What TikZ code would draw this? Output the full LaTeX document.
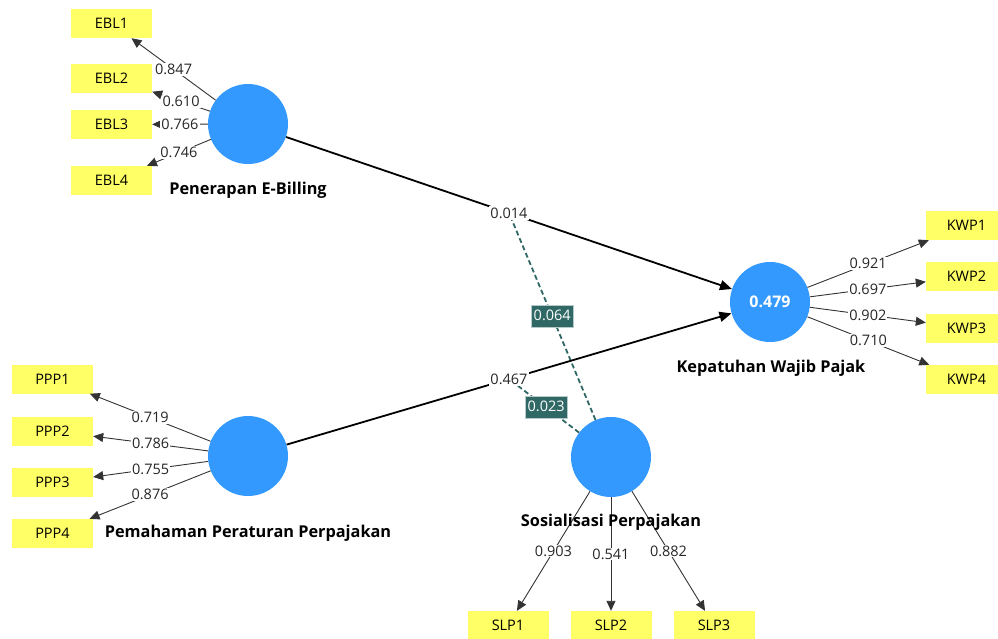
\documentclass[tikz,border=0pt]{standalone}
\usepackage{fontspec}
\setmainfont{Open Sans}
\usetikzlibrary{arrows.meta}
\definecolor{lvblue}{RGB}{51,153,255}
\definecolor{indyellow}{RGB}{255,255,102}
\definecolor{modteal}{RGB}{48,104,101}
\begin{document}
\begin{tikzpicture}[x=1pt,y=-1pt,
  font=\fontsize{14.5}{17}\selectfont,
  latent/.style={circle, fill=lvblue, minimum size=80pt, inner sep=0pt},
  indic/.style={rectangle, fill=indyellow, minimum width=81pt, minimum height=29pt, inner sep=0pt},
  loading/.style={draw=black!80, line width=0.9pt, -{Triangle[length=10pt,width=9pt]}},
  loadlbl/.style={fill=white, inner sep=1pt, text=black!85, midway},
  pathline/.style={draw=black, line width=1.8pt, -{Triangle[length=12pt,width=10pt]}},
  pathlbl/.style={fill=white, inner sep=1.5pt, text=black!85, midway},
  modline/.style={draw=modteal, line width=1.8pt, dash pattern=on 5pt off 3pt},
  modlbl/.style={solid, fill=modteal, draw=modteal!35!white, line width=0.6pt, text=white,
    inner xsep=2.5pt, inner ysep=4.5pt, text height=11pt, text depth=2pt, midway},
  lvname/.style={font=\fontsize{16.3}{18}\selectfont\bfseries, text=black}]
\useasboundingbox (0,0) rectangle (998,638);

% latent variables
\node[latent] (ebl) at (248,124) {};
\node[latent] (kwp) at (770,302) {\textcolor{white}{\fontsize{16}{18}\selectfont\bfseries 0.479}};
\node[latent] (ppp) at (248,456) {};
\node[latent] (slp) at (611,457) {};

% latent names
\node[lvname] (eblname) at (248,190) {Penerapan E-Billing};
\node[lvname] (kwpname) at (771,368) {Kepatuhan Wajib Pajak};
\node[lvname] (pppname) at (248,533) {Pemahaman Peraturan Perpajakan};

% indicators
\node[indic] (EBL1) at (111.5,23.5) {EBL1};
\node[indic] (EBL2) at (111.5,78) {EBL2};
\node[indic] (EBL3) at (111.5,124.5) {EBL3};
\node[indic] (EBL4) at (111.5,180.5) {EBL4};
\node[indic] (KWP1) at (966.5,225.5) {KWP1};
\node[indic] (KWP2) at (966.5,276.5) {KWP2};
\node[indic] (KWP3) at (966.5,328) {KWP3};
\node[indic] (KWP4) at (966.5,379.5) {KWP4};
\node[indic] (PPP1) at (52.5,379) {PPP1};
\node[indic] (PPP2) at (52.5,431) {PPP2};
\node[indic] (PPP3) at (52.5,482.5) {PPP3};
\node[indic] (PPP4) at (52.5,533.5) {PPP4};
\node[indic] (SLP1) at (508,625.5) {SLP1};
\node[indic] (SLP2) at (611,625.5) {SLP2};
\node[indic] (SLP3) at (714,625.5) {SLP3};

% outer loadings
\draw[loading] (ebl) -- node[loadlbl] (l1) {0.847} (EBL1);
\draw[loading] (ebl) -- node[loadlbl] (l2) {0.610} (EBL2);
\draw[loading] (ebl) -- node[loadlbl] (l3) {0.766} (EBL3);
\draw[loading] (ebl) -- node[loadlbl] (l4) {0.746} (EBL4);
\draw[loading] (kwp) -- node[loadlbl] (l5) {0.921} (KWP1);
\draw[loading] (kwp) -- node[loadlbl] (l6) {0.697} (KWP2);
\draw[loading] (kwp) -- node[loadlbl] (l7) {0.902} (KWP3);
\draw[loading] (kwp) -- node[loadlbl] (l8) {0.710} (KWP4);
\draw[loading] (ppp) -- node[loadlbl] (l9) {0.719} (PPP1);
\draw[loading] (ppp) -- node[loadlbl] (l10) {0.786} (PPP2);
\draw[loading] (ppp) -- node[loadlbl] (l11) {0.755} (PPP3);
\draw[loading] (ppp) -- node[loadlbl] (l12) {0.876} (PPP4);
\draw[loading] (slp) -- node[loadlbl] (l13) {0.903} (SLP1);
\draw[loading] (slp) -- node[loadlbl] (l14) {0.541} (SLP2);
\draw[loading] (slp) -- node[loadlbl] (l15) {0.882} (SLP3);

% name of the moderator, set over its loading lines
\node[lvname] (slpname) at (611,522) {Sosialisasi Perpajakan};

% midpoints of the structural paths
\path (ebl) -- coordinate[midway] (m1) (kwp);
\path (ppp) -- coordinate[midway] (m2) (kwp);

% moderating effects
\draw[modline] (slp) -- node[modlbl] (mod1) {0.064} (m1);
\draw[modline] (slp) -- node[modlbl, pos=0.47] (mod2) {0.023} (m2);

% structural paths
\draw[pathline] (ebl) -- node[pathlbl] (p1) {0.014} (kwp);
\draw[pathline] (ppp) -- node[pathlbl] (p2) {0.467} (kwp);
\end{tikzpicture}
\end{document}
